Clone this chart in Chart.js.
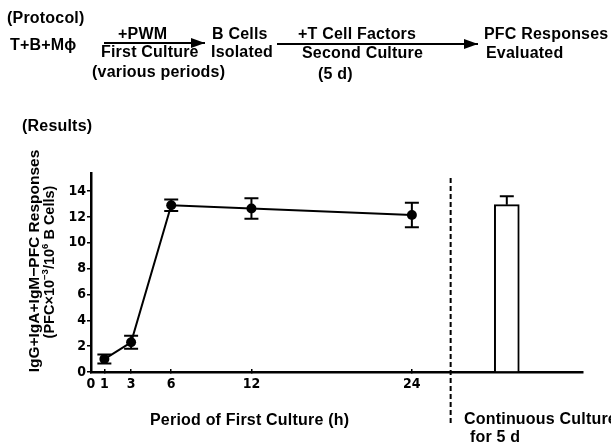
<!DOCTYPE html>
<html>
<head>
<meta charset="utf-8">
<script src="https://cdn.jsdelivr.net/npm/chart.js@4.4.0/dist/chart.umd.min.js"></script>
<style>
html, body { margin: 0; padding: 0; background: #fff; }
#wrap { position: relative; width: 611px; height: 443px; overflow: hidden;
        font-family: "Liberation Sans", Arial, sans-serif; font-weight: bold; color: #000; }
#wrap canvas { position: absolute; left: 0; top: 0; }
.t { position: absolute; white-space: nowrap; font-size: 16px; line-height: 16px; letter-spacing: 0.2px; z-index: 2; }
.arrow { position: absolute; height: 2px; background: #000; z-index: 2; }
.arrow::after { content: ""; position: absolute; right: 0; top: -4px;
                border-left: 14px solid #000; border-top: 5px solid transparent; border-bottom: 5px solid transparent; }
.rot { position: absolute; white-space: nowrap; font-size: 15.5px; line-height: 16px; z-index: 2;
       transform: translate(-50%, -50%) rotate(-90deg); }
.rot.small { font-size: 14.5px; }
.rot sup { font-size: 9.5px; line-height: 0; }
</style>
</head>
<body>
<div id="wrap">
  <canvas id="pfcChart" width="611" height="443"></canvas>

  <!-- protocol diagram -->
  <div class="t" style="left:7px;top:10px;">(Protocol)</div>
  <div class="t" style="left:10px;top:37px;">T+B+Mϕ</div>
  <div class="arrow" style="left:104px;top:42px;width:101px;"></div>
  <div class="t" style="left:118px;top:26px;">+PWM</div>
  <div class="t" style="left:101px;top:44px;">First Culture</div>
  <div class="t" style="left:92px;top:64px;">(various periods)</div>
  <div class="t" style="left:212px;top:26px;">B Cells</div>
  <div class="t" style="left:211px;top:44px;">Isolated</div>
  <div class="arrow" style="left:277px;top:43px;width:201px;"></div>
  <div class="t" style="left:298px;top:26px;">+T Cell Factors</div>
  <div class="t" style="left:302px;top:45px;">Second Culture</div>
  <div class="t" style="left:318px;top:66px;">(5 d)</div>
  <div class="t" style="left:484px;top:26px;">PFC Responses</div>
  <div class="t" style="left:486px;top:45px;">Evaluated</div>

  <!-- results -->
  <div class="t" style="left:22px;top:118px;">(Results)</div>
  <div class="rot" style="left:34px;top:261px;">IgG+IgA+IgM−PFC Responses</div>
  <div class="rot small" style="left:49px;top:262px;">(PFC×10<sup>−3</sup>/10<sup>6</sup> B Cells)</div>
  <div class="t" style="left:150px;top:412px;">Period of First Culture (h)</div>
  <div class="t" style="left:464px;top:411px;">Continuous Culture</div>
  <div class="t" style="left:470px;top:429px;">for 5 d</div>
</div>

<script>
// valores
const hours = [1, 3, 6, 12, 24];
const pfcMean = [1.0, 2.3, 12.9, 12.65, 12.15];
const pfcErr = [0.35, 0.5, 0.45, 0.8, 0.95];

// cultivo continuo 5 d (barra)
const contPosition = [31.1];
const contMean = [12.95];
const contErr = [0.65];

const xTickValues = [0, 1, 3, 6, 12, 24];
const yTickValues = [0, 2, 4, 6, 8, 10, 12, 14];
const dividerAt = 26.9;
const xMax = 36.8;
const yMax = 15.4;

const tickFont = { family: "'Liberation Sans Narrow', 'DejaVu Sans Condensed', sans-serif", weight: 'bold', size: 14 };

// barras de error
const errorBarPlugin = {
    id: 'errorBars',
    afterDatasetsDraw(chart) {
        const { ctx, scales: { x, y } } = chart;
        ctx.save();
        ctx.strokeStyle = '#000';
        ctx.lineWidth = 2;
        chart.data.datasets.forEach(ds => {
            if (!ds.errors) return;
            ds.data.forEach((pt, i) => {
                const px = x.getPixelForValue(pt.x);
                const top = y.getPixelForValue(pt.y + ds.errors[i]);
                const bottom = y.getPixelForValue(ds.upperOnly ? pt.y : pt.y - ds.errors[i]);
                ctx.beginPath();
                ctx.moveTo(px, top);
                ctx.lineTo(px, bottom);
                ctx.moveTo(px - 7, top);
                ctx.lineTo(px + 7, top);
                if (!ds.upperOnly) {
                    ctx.moveTo(px - 7, bottom);
                    ctx.lineTo(px + 7, bottom);
                }
                ctx.stroke();
            });
        });
        ctx.restore();
    }
};

// linea punteada que separa el cultivo continuo
const dividerPlugin = {
    id: 'divider',
    afterDatasetsDraw(chart) {
        const { ctx, chartArea, scales: { x } } = chart;
        const px = x.getPixelForValue(dividerAt);
        ctx.save();
        ctx.strokeStyle = '#000';
        ctx.lineWidth = 2;
        ctx.setLineDash([5, 3]);
        ctx.beginPath();
        ctx.moveTo(px, chartArea.top + 5);
        ctx.lineTo(px, 424);
        ctx.stroke();
        ctx.restore();
    }
};

const ctx = document.getElementById('pfcChart');
new Chart(ctx, {
    type: 'line',
    data: {
        datasets: [{
            type: 'line',
            data: hours.map((h, i) => ({ x: h, y: pfcMean[i] })),
            errors: pfcErr,
            borderColor: '#000',
            borderWidth: 2,
            pointRadius: 5,
            pointBackgroundColor: '#000',
            pointBorderWidth: 0,
            fill: false,
            tension: 0
        }, {
            type: 'bar',
            data: contPosition.map((p, i) => ({ x: p, y: contMean[i] })),
            errors: contErr,
            upperOnly: true,
            backgroundColor: '#fff',
            borderColor: '#000',
            borderWidth: 2,
            barThickness: 25
        }]
    },
    options: {
        responsive: false,
        animation: false,
        layout: { padding: { top: 173, right: 28, bottom: 0, left: 0 } },
        plugins: {
            legend: { display: false },
            tooltip: { enabled: false }
        },
        scales: {
            x: {
                type: 'linear',
                min: 0,
                max: xMax,
                offset: false,
                afterBuildTicks: s => { s.ticks = xTickValues.map(v => ({ value: v })); },
                afterFit: s => { s.height = 71; },
                grid: { offset: false, drawOnChartArea: false, tickLength: -3, tickColor: '#000', lineWidth: 1.5 },
                border: { color: '#000', width: 2.5 },
                ticks: { color: '#000', font: tickFont, padding: 7, maxRotation: 0, autoSkip: false }
            },
            y: {
                min: 0,
                max: yMax,
                afterBuildTicks: s => { s.ticks = yTickValues.map(v => ({ value: v })); },
                afterFit: s => { s.width = 91; },
                grid: { drawOnChartArea: false, tickLength: 4, tickColor: '#000', lineWidth: 1.5 },
                border: { color: '#000', width: 2.5 },
                ticks: { color: '#000', font: tickFont, padding: 1 }
            }
        }
    },
    plugins: [errorBarPlugin, dividerPlugin]
});
</script>
</body>
</html>
